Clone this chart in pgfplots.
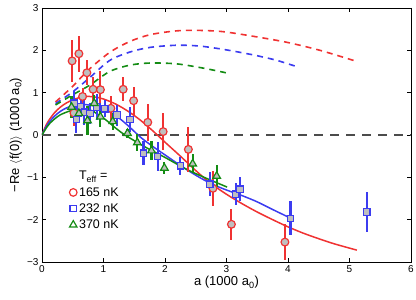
\documentclass[border=0pt]{standalone}
\usepackage{pgfplots}
\pgfplotsset{compat=1.18}
\usepackage{fontspec}
\setmainfont{Liberation Sans}
\definecolor{myred}{RGB}{240,50,50}
\definecolor{myblue}{RGB}{60,60,240}
\definecolor{mygreen}{RGB}{20,140,20}
\begin{document}
\begin{tikzpicture}
\begin{axis}[
  width=369pt, height=254pt, scale only axis,
  xmin=0, xmax=6, ymin=-3, ymax=3,
  xtick={0,1,2,3,4,5,6}, ytick={-3,-2,-1,0,1,2,3},
  yticklabels={−3,−2,−1,0,1,2,3},
  tick align=inside, tick pos=both,
  major tick length=4pt,
  /pgf/number format/assume math mode=true,
  tick label style={font=\fontsize{10}{12}\selectfont},
  axis line style={line width=0.8pt},
  tick style={black, line width=0.6pt},
  xlabel={a (1000 a\textsubscript{0})},
  ylabel={−Re $\langle$f(0)$\rangle$ (1000 a\textsubscript{0})},
  label style={font=\fontsize{13}{15}\selectfont},
  xlabel style={yshift=3pt},
  ylabel style={yshift=-2pt},
  legend style={draw=none, fill=none, at={(axis cs:0.35,-0.78)}, anchor=north west,
    font=\fontsize{12.5}{14}\selectfont, row sep=2pt, inner sep=1pt},
  legend cell align=left,
]
\addlegendimage{empty legend}\addlegendentry{T\textsubscript{eff} =}
\addlegendimage{only marks, mark=*, mark size=3.8pt, mark options={fill=white, draw=myred, line width=1.2pt}}\addlegendentry{165 nK}
\addlegendimage{only marks, mark=square*, mark size=3.2pt, mark options={fill=white, draw=myblue, line width=1.2pt}}\addlegendentry{232 nK}
\addlegendimage{only marks, mark=triangle*, mark size=4.3pt, mark options={fill=white, draw=mygreen, line width=1.2pt}}\addlegendentry{370 nK}

% zero line
\addplot[forget plot, black!70, line width=1.5pt, dash pattern=on 9pt off 7pt] coordinates {(0,0) (6,0)};

% dashed curves
\addplot[forget plot, myred, line width=1.6pt, dash pattern=on 6pt off 5pt, smooth] coordinates {
(0.22,0.78) (0.5,1.15) (0.75,1.53) (1.1,1.95) (1.43,2.21) (1.76,2.37) (2.19,2.46) (2.57,2.47) (2.95,2.44) (3.44,2.33) (3.98,2.19) (4.52,2.0) (5.09,1.75)};
\addplot[forget plot, myblue, line width=1.6pt, dash pattern=on 6pt off 5pt, smooth] coordinates {
(0.22,0.74) (0.5,1.02) (0.78,1.36) (1.1,1.76) (1.43,1.96) (1.76,2.07) (2.19,2.12) (2.57,2.10) (3.0,2.01) (3.44,1.89) (3.8,1.77) (4.11,1.63)};
\addplot[forget plot, mygreen, line width=1.6pt, dash pattern=on 6pt off 5pt, smooth] coordinates {
(0.22,0.71) (0.5,0.95) (0.78,1.18) (1.1,1.50) (1.43,1.65) (1.76,1.70) (2.19,1.68) (2.62,1.58) (2.99,1.47)};

% solid curves
\addplot[forget plot, myred, line width=1.5pt, smooth] coordinates {
(0,0) (0.05,0.18) (0.1,0.32) (0.2,0.52) (0.3,0.66) (0.4,0.76) (0.5,0.83) (0.6,0.88) (0.73,0.91) (0.85,0.9) (1.0,0.85) (1.2,0.73) (1.4,0.56) (1.6,0.35) (1.8,0.1) (2.0,-0.17) (2.25,-0.5) (2.5,-0.84) (2.75,-1.15) (3.0,-1.4) (3.25,-1.62) (3.5,-1.82) (3.75,-2.0) (4.0,-2.17) (4.25,-2.32) (4.5,-2.45) (4.75,-2.57) (5.12,-2.72)};
\addplot[forget plot, myblue, line width=1.5pt, smooth] coordinates {
(0,0) (0.05,0.15) (0.1,0.27) (0.2,0.44) (0.3,0.56) (0.4,0.64) (0.5,0.69) (0.65,0.72) (0.8,0.7) (1.0,0.62) (1.2,0.46) (1.4,0.22) (1.6,-0.05) (1.8,-0.27) (2.0,-0.47) (2.25,-0.72) (2.5,-0.95) (2.75,-1.15) (3.0,-1.3) (3.25,-1.43) (3.5,-1.58) (3.75,-1.76) (4.05,-1.97)};
\addplot[forget plot, mygreen, line width=1.5pt, smooth] coordinates {
(0,0) (0.05,0.12) (0.13,0.28) (0.29,0.47) (0.5,0.59) (0.65,0.62) (0.8,0.58) (1.0,0.40) (1.2,0.16) (1.35,0.0) (1.6,-0.22) (1.8,-0.38) (2.0,-0.53) (2.35,-0.81) (2.7,-1.04) (3.01,-1.23)};

% data points
\addplot[forget plot, only marks, mark=*, mark size=3.9pt, mark options={fill=gray!50, draw=myred, line width=1.2pt},
  error bars/.cd, y dir=both, y explicit, error mark=none, error bar style={draw=myred, line width=2.1pt, solid}]
  table[x=x, y=y, y error=e] {
x y e
0.49 1.75 0.50
0.60 1.92 0.43
0.73 1.47 0.30
0.66 0.91 0.20
0.52 0.52 0.30
0.83 1.08 0.30
0.95 1.07 0.45
1.12 0.63 0.30
1.32 1.08 0.28
1.49 0.81 0.33
1.72 0.30 0.44
1.97 0.08 0.44
2.38 -0.34 0.53
2.78 -1.26 0.42
3.08 -2.11 0.37
3.95 -2.53 0.43
};
\addplot[forget plot, only marks, mark=square*, mark size=3.2pt, mark options={fill=gray!50, draw=myblue, line width=1.2pt},
  error bars/.cd, y dir=both, y explicit, error mark=none, error bar style={draw=myblue, line width=2.1pt, solid}]
  table[x=x, y=y, y error=e] {
x y e
0.52 0.75 0.30
0.56 0.37 0.33
0.63 0.67 0.25
0.69 0.54 0.30
0.78 0.51 0.25
0.89 0.66 0.30
1.02 0.62 0.20
1.22 0.47 0.25
1.43 0.37 0.30
1.65 -0.43 0.28
1.88 -0.51 0.34
2.25 -0.73 0.22
2.73 -1.16 0.28
3.15 -1.40 0.26
3.22 -1.28 0.28
4.04 -1.97 0.40
5.28 -1.82 0.48
};
\addplot[forget plot, only marks, mark=triangle*, mark size=4.4pt, mark options={fill=gray!50, draw=mygreen, line width=1.2pt},
  error bars/.cd, y dir=both, y explicit, error mark=none, error bar style={draw=mygreen, line width=2.1pt, solid}]
  table[x=x, y=y, y error=e] {
x y e
0.48 0.66 0.25
0.60 0.51 0.20
0.74 0.34 0.35
0.85 0.75 0.20
0.95 0.43 0.25
1.15 0.32 0.20
1.39 0.04 0.10
1.55 -0.18 0.20
1.78 -0.37 0.22
1.99 -0.78 0.15
2.45 -0.68 0.22
2.84 -0.97 0.25
};
\end{axis}
\pgfresetboundingbox
\path ([shift={(-42pt,-38pt)}]current axis.south west) rectangle ([shift={(5pt,8pt)}]current axis.north east);
\end{tikzpicture}
\end{document}
